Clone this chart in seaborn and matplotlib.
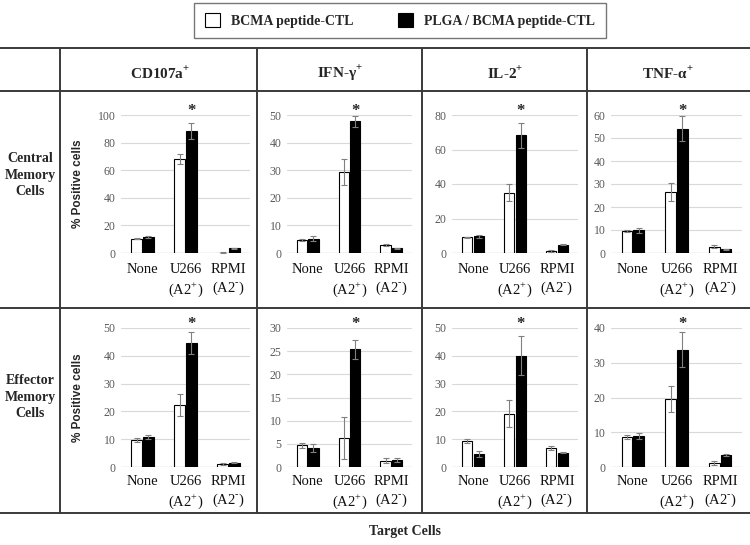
import numpy as np
import pandas as pd
import seaborn as sns
import matplotlib.pyplot as plt
from matplotlib.patches import Patch

# ------------------------------------------------------------
# data
# ------------------------------------------------------------
targets = ['None', 'U266', 'RPMI']
target_labels = ['None', 'U266\n(A2$^{+}$)', 'RPMI\n(A2$^{\\text{-}}$)']
groups = ['BCMA peptide-CTL', 'PLGA / BCMA peptide-CTL']
markers = ['CD107a$^{\\mathbf{+}}$', 'IFN-\u03b3$^{\\mathbf{+}}$', 'IL-2$^{\\mathbf{+}}$', 'TNF-\u03b1$^{\\mathbf{+}}$']
rows = ['Central\nMemory\nCells', 'Effector\nMemory\nCells']

# central memory cells: one list per marker, values for None / U266 / RPMI
cm_white = [[10.4, 68.0, 0.3], [4.6, 29.3, 3.0], [9.0, 34.9, 1.2], [9.5, 26.5, 2.8]]
cm_white_err = [[0.4, 3.6, 0.1], [0.3, 4.6, 0.4], [0.3, 4.9, 0.8], [0.3, 3.8, 0.5]]
cm_black = [[11.8, 88.4, 3.4], [5.2, 47.7, 1.7], [9.6, 68.3, 4.9], [9.9, 54.1, 1.6]]
cm_black_err = [[0.7, 6.1, 0.2], [1.0, 1.9, 0.1], [0.9, 7.2, 0.2], [1.0, 5.4, 0.2]]

# effector memory cells
em_white = [[9.6, 22.2, 1.0], [4.7, 6.3, 1.4], [9.3, 19.2, 6.7], [8.6, 19.6, 1.1]]
em_white_err = [[0.7, 3.9, 0.4], [0.5, 4.5, 0.6], [0.7, 4.9, 0.7], [0.5, 3.7, 0.6]]
em_black = [[10.8, 44.7, 1.6], [4.1, 25.4, 1.5], [4.8, 40.0, 5.1], [8.9, 33.8, 3.4]]
em_black_err = [[0.8, 3.9, 0.1], [0.8, 2.0, 0.5], [1.1, 7.0, 0.2], [0.9, 5.0, 0.3]]

cm_ymax = [100, 50, 80, 60]
cm_ystep = [20, 10, 20, 10]
em_ymax = [50, 30, 50, 40]
em_ystep = [10, 5, 10, 10]

# ------------------------------------------------------------
# style
# ------------------------------------------------------------
sns.set_style('white')
plt.rcParams['font.family'] = ['Liberation Serif', 'DejaVu Serif']
plt.rcParams['mathtext.fontset'] = 'custom'
plt.rcParams['mathtext.rm'] = 'Liberation Serif'
plt.rcParams['mathtext.bf'] = 'Liberation Serif:bold'

W, H = 750, 545
fig = plt.figure(figsize=(W / 100, H / 100), dpi=100)

# overlay axes in pixel coordinates for the table frame
ov = fig.add_axes([0, 0, 1, 1], zorder=-1)
ov.set_xlim(0, W)
ov.set_ylim(H, 0)
ov.axis('off')

line_kw = dict(color='#3a3a3a', lw=1.4)
for yy in [48, 91, 308, 513]:
    ov.plot([0, W], [yy, yy], **line_kw)
for xx in [60, 257, 422, 587]:
    ov.plot([xx, xx], [48, 513], **line_kw)

col_centers = [160, 340, 505, 668]
for cx, name in zip(col_centers, markers):
    ov.text(cx, 73, name, ha='center', va='center', fontsize=11, fontweight='bold')
for cy, name in zip([175, 397], rows):
    ov.text(30, cy, name, ha='center', va='center', fontsize=10, fontweight='bold',
            linespacing=1.35)
ov.text(405, 531, 'Target Cells', ha='center', va='center', fontsize=10, fontweight='bold')

# legend
handles = [Patch(facecolor='white', edgecolor='black', lw=0.8),
           Patch(facecolor='black', edgecolor='black', lw=0.8)]
leg = fig.legend(handles, groups, loc='upper center', bbox_to_anchor=(400 / W, 1 - 3 / H),
                 ncol=2, frameon=True, fancybox=False, edgecolor='#555555',
                 prop={'family': 'Liberation Serif', 'weight': 'bold', 'size': 10},
                 handlelength=1.1, handleheight=1.1, columnspacing=3.2,
                 borderpad=0.75, handletextpad=0.8, borderaxespad=0)
leg.get_frame().set_linewidth(1.0)

# ------------------------------------------------------------
# panels
# ------------------------------------------------------------
col_x = [(121, 250), (287, 412), (452, 578), (611, 742)]
row_y = [(115, 253), (328, 467)]

row_data = [
    (cm_white, cm_white_err, cm_black, cm_black_err, cm_ymax, cm_ystep),
    (em_white, em_white_err, em_black, em_black_err, em_ymax, em_ystep),
]

for r, (wv, we, bv, be, ymax, ystep) in enumerate(row_data):
    y0, y1 = row_y[r]
    for c in range(4):
        x0, x1 = col_x[c]
        ax = fig.add_axes([x0 / W, 1 - y1 / H, (x1 - x0) / W, (y1 - y0) / H])
        df = pd.DataFrame({
            'target': targets * 2,
            'group': [groups[0]] * 3 + [groups[1]] * 3,
            'value': wv[c] + bv[c],
        })
        errs = [we[c], be[c]]
        sns.barplot(data=df, x='target', y='value', hue='group', order=targets,
                    hue_order=groups, palette=['white', 'black'], edgecolor='black',
                    linewidth=0.8, width=0.54, gap=0.1, errorbar=None, legend=False,
                    ax=ax)
        for cont, err in zip(ax.containers, errs):
            xs = [p.get_x() + p.get_width() / 2 for p in cont.patches]
            hs = [p.get_height() for p in cont.patches]
            ax.errorbar(xs, hs, yerr=err, fmt='none', ecolor='#808080',
                        elinewidth=0.8, capsize=2.2, capthick=0.8, zorder=5)
        # significance mark over the PLGA bar of U266
        star_x = ax.containers[1].patches[1]
        ax.annotate('*', xy=(star_x.get_x() + star_x.get_width() / 2, 1),
                    xycoords=('data', 'axes fraction'), xytext=(0, 3),
                    textcoords='offset points', ha='center', va='center',
                    fontsize=12, fontweight='bold', annotation_clip=False)

        ax.set_ylim(0, ymax[c])
        ax.set_yticks(np.arange(0, ymax[c] + 0.1, ystep[c]))
        ax.set_xticks(range(3))
        ax.set_xticklabels(target_labels)
        ax.yaxis.grid(True, color='#d9d9d9', lw=0.8)
        ax.set_axisbelow(True)
        ax.axhline(0, color='#c4c4c4', lw=0.9, zorder=0.5)
        for s in ax.spines.values():
            s.set_visible(False)
        ax.tick_params(axis='y', length=0, labelsize=8.5, labelcolor='#595959', pad=4)
        ax.tick_params(axis='x', length=0, labelsize=10.5, labelcolor='#111111',
                       pad=7 if r == 0 else 6)
        for lab in ax.get_xticklabels():
            lab.set_linespacing(1.3)
        ax.set_xlabel('')
        if c == 0:
            ax.set_ylabel('% Positive cells', family='Liberation Sans', fontweight='bold',
                          fontsize=8.5)
            ax.yaxis.set_label_coords(-0.29, 0.5)
        else:
            ax.set_ylabel('')
        ax.set_xlim(-0.5, 2.5)

fig.savefig('out.png', dpi=100)
